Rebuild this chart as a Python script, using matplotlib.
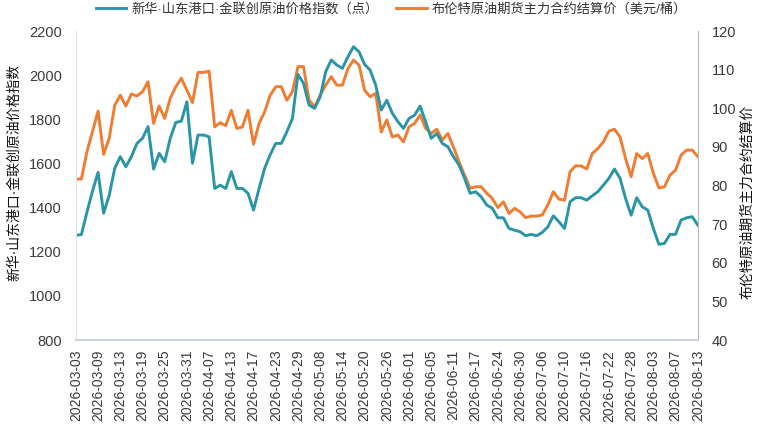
import matplotlib
matplotlib.use('Agg')
import matplotlib.pyplot as plt

plt.rcParams['font.family'] = ['Liberation Sans', 'Noto Sans CJK SC']

# tick labels, shown every 4 trading days
tick_dates = ['2026-03-03', '2026-03-09', '2026-03-13', '2026-03-19', '2026-03-25',
              '2026-03-31', '2026-04-07', '2026-04-13', '2026-04-17', '2026-04-23',
              '2026-04-29', '2026-05-08', '2026-05-14', '2026-05-20', '2026-05-26',
              '2026-06-01', '2026-06-05', '2026-06-11', '2026-06-17', '2026-06-24',
              '2026-06-30', '2026-07-06', '2026-07-10', '2026-07-16', '2026-07-22',
              '2026-07-28', '2026-08-03', '2026-08-07', '2026-08-13']

# crude oil price index (points)
index_vals = [1275, 1278, 1380, 1475, 1560, 1375, 1455, 1578, 1631, 1585,
              1631, 1691, 1714, 1767, 1575, 1646, 1608, 1714, 1786, 1792,
              1880, 1601, 1729, 1729, 1721, 1487, 1502, 1487, 1563, 1487,
              1487, 1465, 1389, 1487, 1578, 1640, 1691, 1691, 1744, 1804,
              2004, 1963, 1865, 1850, 1902, 2016, 2069, 2046, 2031, 2084,
              2129, 2106, 2049, 2023, 1955, 1842, 1887, 1827, 1790, 1759,
              1804, 1819, 1860, 1789, 1714, 1736, 1691, 1676, 1631, 1593,
              1533, 1465, 1472, 1449, 1412, 1397, 1354, 1354, 1306, 1298,
              1291, 1273, 1279, 1273, 1288, 1313, 1363, 1336, 1306, 1427,
              1445, 1445, 1434, 1454, 1472, 1502, 1533, 1575, 1533, 1442,
              1366, 1445, 1404, 1389, 1306, 1234, 1238, 1279, 1279, 1344,
              1354, 1359, 1321]

# brent main contract settlement (USD/bbl)
brent_vals = [81.7, 81.7, 88.8, 94.0, 99.3, 88.1, 92.2, 100.8, 103.4, 100.6,
              103.7, 103.2, 104.3, 106.9, 96.1, 100.6, 97.4, 102.6, 105.6, 107.8,
              104.7, 101.5, 109.3, 109.3, 109.6, 95.2, 96.3, 95.5, 99.5, 94.8,
              95.2, 99.5, 90.7, 96.1, 99.1, 103.4, 105.6, 105.6, 102.1, 104.3,
              110.8, 110.8, 102.1, 100.4, 103.4, 106.0, 108.2, 106.0, 106.0, 110.3,
              112.5, 111.2, 104.7, 103.0, 103.9, 93.9, 97.0, 92.6, 93.1, 91.3,
              95.2, 96.1, 98.3, 94.8, 93.5, 94.6, 91.8, 93.5, 90.0, 86.2,
              82.7, 79.3, 79.7, 79.7, 78.0, 76.7, 74.3, 75.8, 72.8, 74.1,
              73.2, 71.7, 72.1, 72.1, 72.4, 75.0, 78.4, 76.5, 76.2, 83.6,
              85.1, 85.1, 84.3, 88.3, 89.6, 91.3, 94.1, 94.6, 92.6, 87.0,
              82.3, 88.3, 87.0, 88.3, 83.2, 79.4, 79.7, 82.7, 84.0, 87.9,
              89.2, 89.2, 87.5]

label_index = '新华·山东港口·金联创原油价格指数（点）'
label_brent = '布伦特原油期货主力合约结算价（美元/桶）'

teal = '#2b95a8'
orange = '#ee7d31'

x = list(range(len(index_vals)))

fig = plt.figure(figsize=(7.74, 4.44), dpi=100)
ax = fig.add_axes([0.098, 0.234, 0.8035, 0.696])
ax2 = ax.twinx()

l1, = ax.plot(x, index_vals, color=teal, lw=2.1, solid_joinstyle='round')
l2, = ax2.plot(x, brent_vals, color=orange, lw=2.1, solid_joinstyle='round')
ax.set_zorder(ax2.get_zorder() + 1)
ax.patch.set_visible(False)

ax.set_xlim(0, len(x) - 1)
ax.set_ylim(800, 2200)
ax.set_yticks(range(800, 2201, 200))
ax2.set_ylim(40, 120)
ax2.set_yticks(range(40, 121, 10))

ax.set_xticks(range(0, len(x), 4))
ax.set_xticklabels(tick_dates, rotation=90)

for a in (ax, ax2):
    a.tick_params(length=0, labelsize=10.5, colors='#3a3a3a')
    for s in a.spines.values():
        s.set_visible(False)
ax.tick_params(axis='y', pad=10)
ax2.tick_params(axis='y', pad=10)
ax.tick_params(axis='x', pad=7, labelsize=10)

ax.spines['left'].set_visible(True)
ax.spines['left'].set_color('#dde1e8')
ax.spines['bottom'].set_visible(True)
ax.spines['bottom'].set_color('#c3cbd8')
ax.spines['bottom'].set_linewidth(1.2)
ax2.spines['right'].set_visible(True)
ax2.spines['right'].set_color('#b8b8b8')

fig.text(0.018, 0.612, '新华·山东港口·金联创原油价格指数', rotation=90,
         ha='center', va='center', fontsize=10, color='#111111')
fig.text(0.966, 0.546, '布伦特原油期货主力合约结算价', rotation=90,
         ha='center', va='center', fontsize=10, color='#111111')

fig.legend([l1, l2], [label_index, label_brent], loc='center',
           bbox_to_anchor=(0.506, 0.979), ncol=2, frameon=False,
           fontsize=9.5, handlelength=2.3, handletextpad=0.4,
           columnspacing=1.3, labelcolor='#333333')

fig.savefig('out.png', dpi=100)
